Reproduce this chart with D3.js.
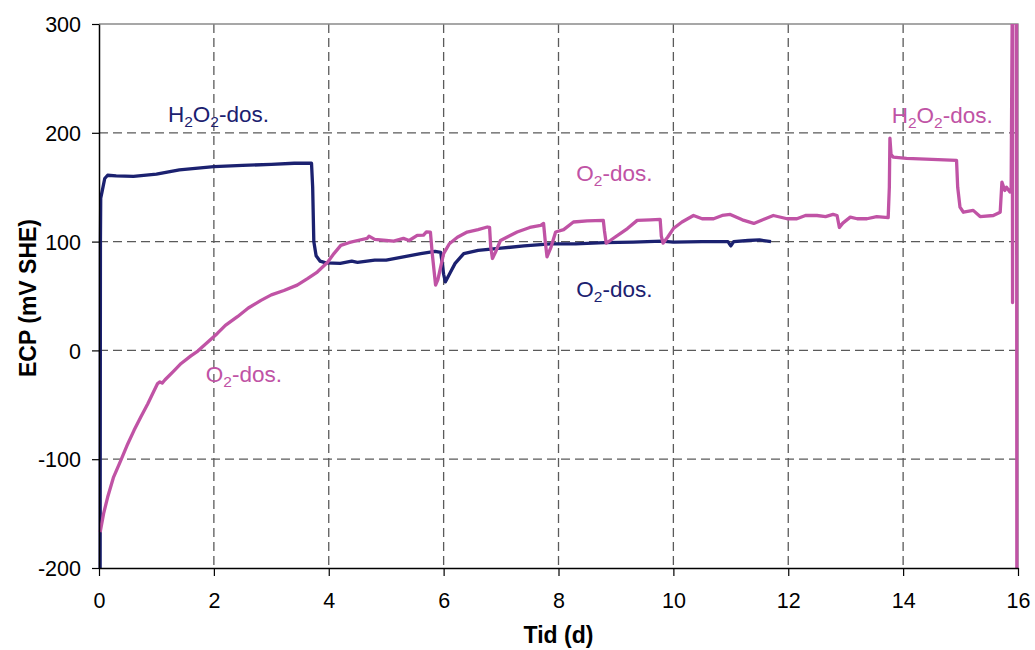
<!DOCTYPE html>
<html>
<head>
<meta charset="utf-8">
<script src="https://cdn.jsdelivr.net/npm/d3@7/dist/d3.min.js"></script>
<style>
  html, body { margin: 0; padding: 0; background: #fff; }
  svg { display: block; font-family: "Liberation Sans", Arial, sans-serif; }
</style>
</head>
<body>
<svg id="chart" width="1035" height="650"></svg>
<script>
// ---- data ----
const xTicks = [0, 2, 4, 6, 8, 10, 12, 14, 16];
const yTicks = [-200, -100, 0, 100, 200, 300];

// navy series: time (d), ECP (mV SHE)
const navyT = [0.02,0.025,0.03,0.05,0.1,0.15,0.3,0.6,1.0,1.4,2.0,2.5,3.0,3.4,3.7,3.72,3.74,3.78,3.85,3.95,4.2,4.4,4.5,4.8,5.0,5.3,5.6,5.85,5.95,6.0,6.03,6.1,6.2,6.35,6.6,7.0,7.4,7.86,8.3,8.8,9.3,9.8,10.0,10.5,10.95,11.0,11.05,11.3,11.5,11.7];
const navyV = [-200,100,140,145,158,161,160.5,160,162,166,169,170,171,172,172,150,100,87,82,80.5,80,82,81,83,83,86,89,91,90,70,63,70,80,89,92,94,96,98,98,99,99.5,100.5,99.5,100,100,96,100,101,101.5,100];

// magenta series
const pinkT = [0.02,0.08,0.15,0.25,0.38,0.5,0.61,0.73,0.85,0.95,1.02,1.06,1.1,1.15,1.3,1.43,1.6,1.72,1.9,2.06,2.2,2.41,2.6,2.82,3.0,3.22,3.45,3.63,3.8,3.98,4.09,4.21,4.35,4.5,4.67,4.7,4.8,5.0,5.13,5.3,5.4,5.54,5.65,5.7,5.77,5.8,5.86,5.9,6.0,6.1,6.24,6.41,6.6,6.76,6.8,6.82,6.85,6.9,6.99,7.1,7.28,7.5,7.69,7.74,7.77,7.8,7.87,7.95,8.09,8.26,8.5,8.78,8.8,8.83,8.9,9.08,9.2,9.37,9.6,9.77,9.79,9.82,9.9,10.0,10.15,10.35,10.5,10.7,10.85,10.99,11.2,11.4,11.6,11.74,11.98,12.15,12.3,12.5,12.65,12.78,12.85,12.89,12.95,13.08,13.2,13.37,13.54,13.74,13.76,13.77,13.79,13.83,14.06,14.5,14.93,14.95,14.99,15.05,15.22,15.34,15.57,15.69,15.72,15.77,15.8,15.86,15.88,15.9,15.905,15.91,15.975,15.98];
const pinkV = [-167,-150,-135,-117,-101,-86,-73.5,-61,-49,-38,-30.5,-29,-30,-27,-19,-12,-5,-0.6,8,15.6,23,31,39,46,51,55,60,66,72,81,89,96.5,99,101,103,105,102,101,100.5,103,101,105.7,106,109,108.8,90,60,65,89,98,104,108.8,111,113.4,113,95,84.5,90,101,104,108.8,113,115,116.7,100,86,95,108.8,111,118,119,119.5,110,98.6,101,107.5,112,119.5,120,120.4,105,98.6,104,112,118,124,121,121,124,125,120,116.7,121,124,121,121,124,124,123,125,124,113,117,122.5,121,121,123,122,150,195,180,177.6,176.5,175.5,174.6,150,131.7,127,128.7,123,124,127,154.7,147,150,145.5,146,320,44,320,320,-220];

// annotations: [time, ECP, series]
const labels = [
  { t: 1.2,  v: 209.6, sub: true, series: "navy" },   // H2O2-dos.
  { t: 8.31, v: 156,   sub: false, series: "pink" },  // O2-dos.
  { t: 8.31, v: 48.7,  sub: false, series: "navy" },  // O2-dos.
  { t: 1.86, v: -29.4, sub: false, series: "pink" },  // O2-dos.
  { t: 13.8, v: 208.6, sub: true, series: "pink" }    // H2O2-dos.
];

const colors = { navy: "#1b2170", pink: "#c053a5" };

// ---- chart ----
const svg = d3.select("#chart");
const L = 99, R = 1018, T = 24, B = 568;
const x = d3.scaleLinear().domain([0, 16]).range([L, R]);
const y = d3.scaleLinear().domain([-200, 300]).range([B, T]);

svg.append("defs").append("clipPath").attr("id", "clip")
  .append("rect").attr("x", L - 2).attr("y", T).attr("width", R - L + 4).attr("height", B - T);

// gridlines
const grid = svg.append("g");
grid.selectAll("line.h").data(yTicks.filter(d => d > -200 && d < 300)).join("line")
  .attr("x1", L).attr("x2", R).attr("y1", d => y(d)).attr("y2", d => y(d))
  .attr("stroke", "#5a5a5a").attr("stroke-width", 1.3).attr("stroke-dasharray", "9,5");
grid.selectAll("line.v").data(xTicks.filter(d => d > 0 && d < 16)).join("line")
  .attr("y1", T).attr("y2", B).attr("x1", d => x(d)).attr("x2", d => x(d))
  .attr("stroke", "#5a5a5a").attr("stroke-width", 1.3).attr("stroke-dasharray", "9,5");

// plot border (top / right)
svg.append("path")
  .attr("d", `M${L},${T}H${R}V${B}`)
  .attr("fill", "none").attr("stroke", "#8a8a8a").attr("stroke-width", 1.3);

// series lines
const line = d3.line().x(d => x(d[0])).y(d => y(d[1]));
const lines = svg.append("g").attr("clip-path", "url(#clip)");
lines.append("path").datum(navyT.map((t, i) => [t, navyV[i]]))
  .attr("d", line).attr("fill", "none").attr("stroke", colors.navy)
  .attr("stroke-width", 3.3).attr("stroke-linejoin", "round");
lines.append("path").datum(pinkT.map((t, i) => [t, pinkV[i]]))
  .attr("d", line).attr("fill", "none").attr("stroke", colors.pink)
  .attr("stroke-width", 3.3).attr("stroke-linejoin", "round");

// axes
const yAxis = d3.axisLeft(y).tickValues(yTicks).tickFormat(d => String(d))
  .tickSize(7).tickSizeOuter(0).tickPadding(11);
const gy = svg.append("g").attr("transform", `translate(${L},0)`).call(yAxis);
const xAxis = d3.axisBottom(x).tickValues(xTicks).tickFormat(d => String(d))
  .tickSize(8).tickSizeOuter(0).tickPadding(17);
const gx = svg.append("g").attr("transform", `translate(0,${B})`).call(xAxis);
[gx, gy].forEach(g => {
  g.select(".domain").attr("stroke", "#000").attr("stroke-width", 1.5);
  g.selectAll(".tick line").attr("stroke", "#000").attr("stroke-width", 1.2);
  g.selectAll(".tick text").attr("fill", "#000")
    .style("font-family", "'Liberation Sans', Arial, sans-serif").style("font-size", "21.5px");
});
gx.selectAll(".tick text").attr("dy", "0.71em");
gy.selectAll(".tick text").attr("dy", "0.36em");

// axis titles
svg.append("text").attr("x", (L + R) / 2).attr("y", 643)
  .attr("text-anchor", "middle").attr("font-weight", "bold").attr("font-size", 23)
  .text("Tid (d)");
svg.append("text").attr("transform", `translate(36,${(T + B) / 2 + 2}) rotate(-90)`)
  .attr("text-anchor", "middle").attr("font-weight", "bold").attr("font-size", 23)
  .text("ECP (mV SHE)");

// annotations
labels.forEach(l => {
  const tx = svg.append("text").attr("x", x(l.t)).attr("y", y(l.v))
    .attr("fill", colors[l.series]).attr("font-size", 22.5);
  if (l.sub) {
    tx.append("tspan").text("H");
    tx.append("tspan").attr("font-size", 15.5).attr("dy", 5).text("2");
    tx.append("tspan").attr("dy", -5).text("O");
  } else {
    tx.append("tspan").text("O");
  }
  tx.append("tspan").attr("font-size", 15.5).attr("dy", 5).text("2");
  tx.append("tspan").attr("dy", -5).text("-dos.");
});
</script>
</body>
</html>
